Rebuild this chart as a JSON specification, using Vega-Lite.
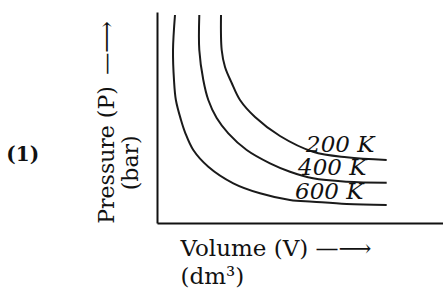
{
  "$schema": "https://vega.github.io/schema/vega-lite/v6.json",
  "width": 286,
  "height": 211,
  "autosize": {"type": "none"},
  "padding": {"left": 157, "top": 12, "right": 0, "bottom": 65},
  "background": "white",
  "config": {"view": {"stroke": null}, "font": "DejaVu Serif"},
  "title": {
    "text": "(1)",
    "orient": "left",
    "angle": 0,
    "anchor": "middle",
    "align": "right",
    "baseline": "middle",
    "offset": 23,
    "dy": 37,
    "font": "DejaVu Serif",
    "fontSize": 20,
    "fontWeight": "bold",
    "color": "#111"
  },
  "datasets": {
    "curves": [
      {"T": "600 K", "V": 0.629, "P": 9.858},
      {"T": "600 K", "V": 0.56, "P": 8.199},
      {"T": "600 K", "V": 0.594, "P": 6.777},
      {"T": "600 K", "V": 0.66, "P": 5.829},
      {"T": "600 K", "V": 0.839, "P": 4.882},
      {"T": "600 K", "V": 0.99, "P": 4.265},
      {"T": "600 K", "V": 1.269, "P": 3.46},
      {"T": "600 K", "V": 1.794, "P": 2.668},
      {"T": "600 K", "V": 2.668, "P": 1.882},
      {"T": "600 K", "V": 3.601, "P": 1.408},
      {"T": "600 K", "V": 4.65, "P": 1.09},
      {"T": "600 K", "V": 5.455, "P": 1.009},
      {"T": "600 K", "V": 6.633, "P": 0.9},
      {"T": "600 K", "V": 8.031, "P": 0.853},
      {"T": "400 K", "V": 1.479, "P": 9.858},
      {"T": "400 K", "V": 1.479, "P": 8.199},
      {"T": "400 K", "V": 1.619, "P": 6.777},
      {"T": "400 K", "V": 1.794, "P": 5.829},
      {"T": "400 K", "V": 2.087, "P": 4.976},
      {"T": "400 K", "V": 2.493, "P": 4.251},
      {"T": "400 K", "V": 3.136, "P": 3.46},
      {"T": "400 K", "V": 3.951, "P": 2.829},
      {"T": "400 K", "V": 4.65, "P": 2.431},
      {"T": "400 K", "V": 5.455, "P": 2.118},
      {"T": "400 K", "V": 6.633, "P": 1.957},
      {"T": "400 K", "V": 8.031, "P": 1.91},
      {"T": "200 K", "V": 2.238, "P": 9.858},
      {"T": "200 K", "V": 2.262, "P": 8.199},
      {"T": "200 K", "V": 2.378, "P": 7.393},
      {"T": "200 K", "V": 2.612, "P": 6.635},
      {"T": "200 K", "V": 2.902, "P": 5.829},
      {"T": "200 K", "V": 3.427, "P": 5.024},
      {"T": "200 K", "V": 4.301, "P": 4.123},
      {"T": "200 K", "V": 5.455, "P": 3.379},
      {"T": "200 K", "V": 6.633, "P": 3.114},
      {"T": "200 K", "V": 8.031, "P": 2.986}
    ],
    "labels": [
      {"label": "200 K", "V": 5.21, "P": 3.365},
      {"label": "400 K", "V": 4.93, "P": 2.275},
      {"label": "600 K", "V": 4.825, "P": 1.137}
    ]
  },
  "layer": [
    {
      "data": {"name": "curves"},
      "mark": {"type": "line", "interpolate": "catmull-rom", "strokeWidth": 2, "color": "#1a1a1a"},
      "encoding": {
        "x": {
          "field": "V",
          "type": "quantitative",
          "scale": {"domain": [0, 10], "nice": false},
          "axis": {
            "title": ["Volume (V) \u2014\u27f6", "(dm³)"],
            "domain": true,
            "domainColor": "#111",
            "domainWidth": 2,
            "ticks": false,
            "labels": false,
            "grid": false,
            "titleFont": "DejaVu Serif",
            "titleFontSize": 23,
            "titleFontWeight": "normal",
            "titleColor": "#111",
            "titleAlign": "left",
            "titleBaseline": "alphabetic",
            "titleLimit": 1000,
            "titleX": 23,
            "titleY": 32,
            "titleLineHeight": 28
          }
        },
        "y": {
          "field": "P",
          "type": "quantitative",
          "scale": {"domain": [0, 10], "nice": false},
          "axis": {
            "title": ["Pressure (P)\u00a0\u2009\u2014\u27f6", "(bar)\u2800\u2800\u2800\u2800\u2800"],
            "domain": true,
            "domainColor": "#111",
            "domainWidth": 2,
            "ticks": false,
            "labels": false,
            "grid": false,
            "titleFont": "DejaVu Serif",
            "titleFontSize": 22,
            "titleFontWeight": "normal",
            "titleColor": "#111",
            "titleAngle": 270,
            "titleAlign": "center",
            "titleBaseline": "alphabetic",
            "titleLimit": 1000,
            "titleX": -44,
            "titleY": 110,
            "titleLineHeight": 24
          }
        },
        "detail": {"field": "T"},
        "order": {"field": "P", "sort": "descending"}
      }
    },
    {
      "data": {"name": "labels"},
      "mark": {"type": "text", "align": "left", "baseline": "alphabetic", "font": "DejaVu Serif", "fontStyle": "italic", "fontSize": 23, "color": "#111"},
      "encoding": {
        "x": {"field": "V", "type": "quantitative"},
        "y": {"field": "P", "type": "quantitative"},
        "text": {"field": "label"}
      }
    }
  ]
}
